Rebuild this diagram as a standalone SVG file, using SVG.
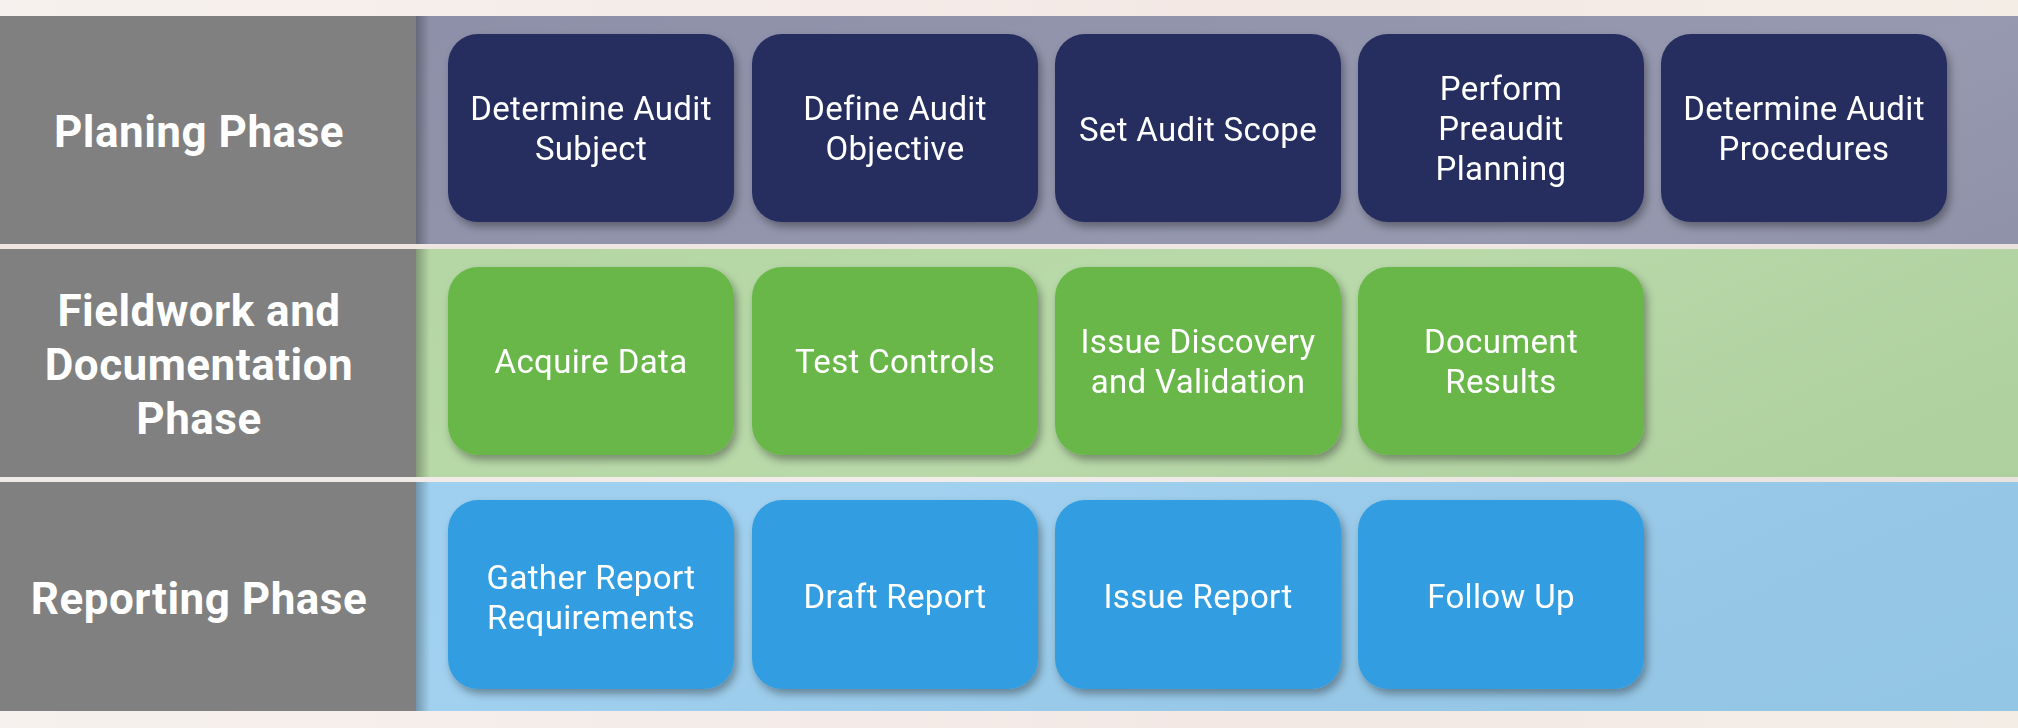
<svg xmlns="http://www.w3.org/2000/svg" width="2018" height="728" viewBox="0 0 2018 728">
  <defs>
    <filter id="shadow" x="-10%" y="-10%" width="125%" height="130%">
      <feDropShadow dx="3" dy="5" stdDeviation="4" flood-color="#000" flood-opacity="0.35"/>
    </filter>
    <linearGradient id="edge" x1="0" y1="0" x2="1" y2="0">
      <stop offset="0" stop-color="#000" stop-opacity="0.28"/>
      <stop offset="1" stop-color="#000" stop-opacity="0"/>
    </linearGradient>
    <linearGradient id="bg" x1="0" y1="0" x2="1" y2="0">
      <stop offset="0" stop-color="#f6f1ee"/>
      <stop offset="0.6" stop-color="#f3e8e4"/>
      <stop offset="1" stop-color="#f4ede6"/>
    </linearGradient>
    <linearGradient id="sheen" x1="0" y1="0" x2="1" y2="1">
      <stop offset="0" stop-color="#fff" stop-opacity="0"/>
      <stop offset="0.5" stop-color="#fff" stop-opacity="0.08"/>
      <stop offset="1" stop-color="#000" stop-opacity="0.04"/>
    </linearGradient>
  </defs>
  <style>
    .panel { fill: #808080; }
    .band1 { fill: #8e90a9; }
    .band2 { fill: #b3d6a2; }
    .band3 { fill: #99cdee; }
    .box { filter: url(#shadow); }
    .navy { fill: #252d5f; }
    .green { fill: #69b74a; }
    .blue { fill: #339ee1; }
    .lbl { font-family: Roboto, "Liberation Sans", sans-serif; font-size: 33px; letter-spacing: 0.35px; fill: #ffffff; text-anchor: middle; }
    .phase { font-family: Roboto, "Liberation Sans", sans-serif; font-size: 44px; letter-spacing: 0.5px; font-weight: bold; fill: #ffffff; text-anchor: middle; }
  </style>

  <!-- background -->
  <g id="background">
    <rect x="0" y="0" width="2018" height="728" fill="url(#bg)"/>
    <rect x="0" y="244" width="2018" height="5" fill="#efe5e1"/>
    <rect x="0" y="477" width="2018" height="5" fill="#f1ebe8"/>
  </g>

  <!-- bands -->
  <g id="bands">
    <rect class="band1" x="416" y="16" width="1602" height="228"/>
    <rect class="band2" x="416" y="249" width="1602" height="228"/>
    <rect class="band3" x="416" y="482" width="1602" height="229"/>
    <rect x="416" y="16" width="1602" height="695" fill="url(#sheen)"/>
    <rect x="416" y="16" width="14" height="228" fill="url(#edge)"/>
    <rect x="416" y="249" width="14" height="228" fill="url(#edge)"/>
    <rect x="416" y="482" width="14" height="229" fill="url(#edge)"/>
  </g>

  <!-- phase labels -->
  <g id="phase-planning">
    <rect class="panel" x="0" y="16" width="416" height="228"/>
    <text class="phase" x="199" y="147">Planing Phase</text>
  </g>
  <g id="phase-fieldwork">
    <rect class="panel" x="0" y="249" width="416" height="228"/>
    <text class="phase" x="199" y="326">Fieldwork and</text>
    <text class="phase" x="199" y="380">Documentation</text>
    <text class="phase" x="199" y="434">Phase</text>
  </g>
  <g id="phase-reporting">
    <rect class="panel" x="0" y="482" width="416" height="229"/>
    <text class="phase" x="199" y="614">Reporting Phase</text>
  </g>

  <!-- planning row -->
  <g id="determine-audit-subject" class="box">
    <rect class="navy" x="448" y="34" width="286" height="188" rx="30"/>
    <text class="lbl" x="591" y="120">Determine Audit</text>
    <text class="lbl" x="591" y="160">Subject</text>
  </g>
  <g id="define-audit-objective" class="box">
    <rect class="navy" x="752" y="34" width="286" height="188" rx="30"/>
    <text class="lbl" x="895" y="120">Define Audit</text>
    <text class="lbl" x="895" y="160">Objective</text>
  </g>
  <g id="set-audit-scope" class="box">
    <rect class="navy" x="1055" y="34" width="286" height="188" rx="30"/>
    <text class="lbl" x="1198" y="141">Set Audit Scope</text>
  </g>
  <g id="perform-preaudit-planning" class="box">
    <rect class="navy" x="1358" y="34" width="286" height="188" rx="30"/>
    <text class="lbl" x="1501" y="100">Perform</text>
    <text class="lbl" x="1501" y="140">Preaudit</text>
    <text class="lbl" x="1501" y="180">Planning</text>
  </g>
  <g id="determine-audit-procedures" class="box">
    <rect class="navy" x="1661" y="34" width="286" height="188" rx="30"/>
    <text class="lbl" x="1804" y="120">Determine Audit</text>
    <text class="lbl" x="1804" y="160">Procedures</text>
  </g>

  <!-- fieldwork row -->
  <g id="acquire-data" class="box">
    <rect class="green" x="448" y="267" width="286" height="188" rx="30"/>
    <text class="lbl" x="591" y="373">Acquire Data</text>
  </g>
  <g id="test-controls" class="box">
    <rect class="green" x="752" y="267" width="286" height="188" rx="30"/>
    <text class="lbl" x="895" y="373">Test Controls</text>
  </g>
  <g id="issue-discovery" class="box">
    <rect class="green" x="1055" y="267" width="286" height="188" rx="30"/>
    <text class="lbl" x="1198" y="353">Issue Discovery</text>
    <text class="lbl" x="1198" y="393">and Validation</text>
  </g>
  <g id="document-results" class="box">
    <rect class="green" x="1358" y="267" width="286" height="188" rx="30"/>
    <text class="lbl" x="1501" y="353">Document</text>
    <text class="lbl" x="1501" y="393">Results</text>
  </g>

  <!-- reporting row -->
  <g id="gather-report-requirements" class="box">
    <rect class="blue" x="448" y="500" width="286" height="189" rx="30"/>
    <text class="lbl" x="591" y="589">Gather Report</text>
    <text class="lbl" x="591" y="629">Requirements</text>
  </g>
  <g id="draft-report" class="box">
    <rect class="blue" x="752" y="500" width="286" height="189" rx="30"/>
    <text class="lbl" x="895" y="608">Draft Report</text>
  </g>
  <g id="issue-report" class="box">
    <rect class="blue" x="1055" y="500" width="286" height="189" rx="30"/>
    <text class="lbl" x="1198" y="608">Issue Report</text>
  </g>
  <g id="follow-up" class="box">
    <rect class="blue" x="1358" y="500" width="286" height="189" rx="30"/>
    <text class="lbl" x="1501" y="608">Follow Up</text>
  </g>

  <g id="connectors"/>
</svg>
